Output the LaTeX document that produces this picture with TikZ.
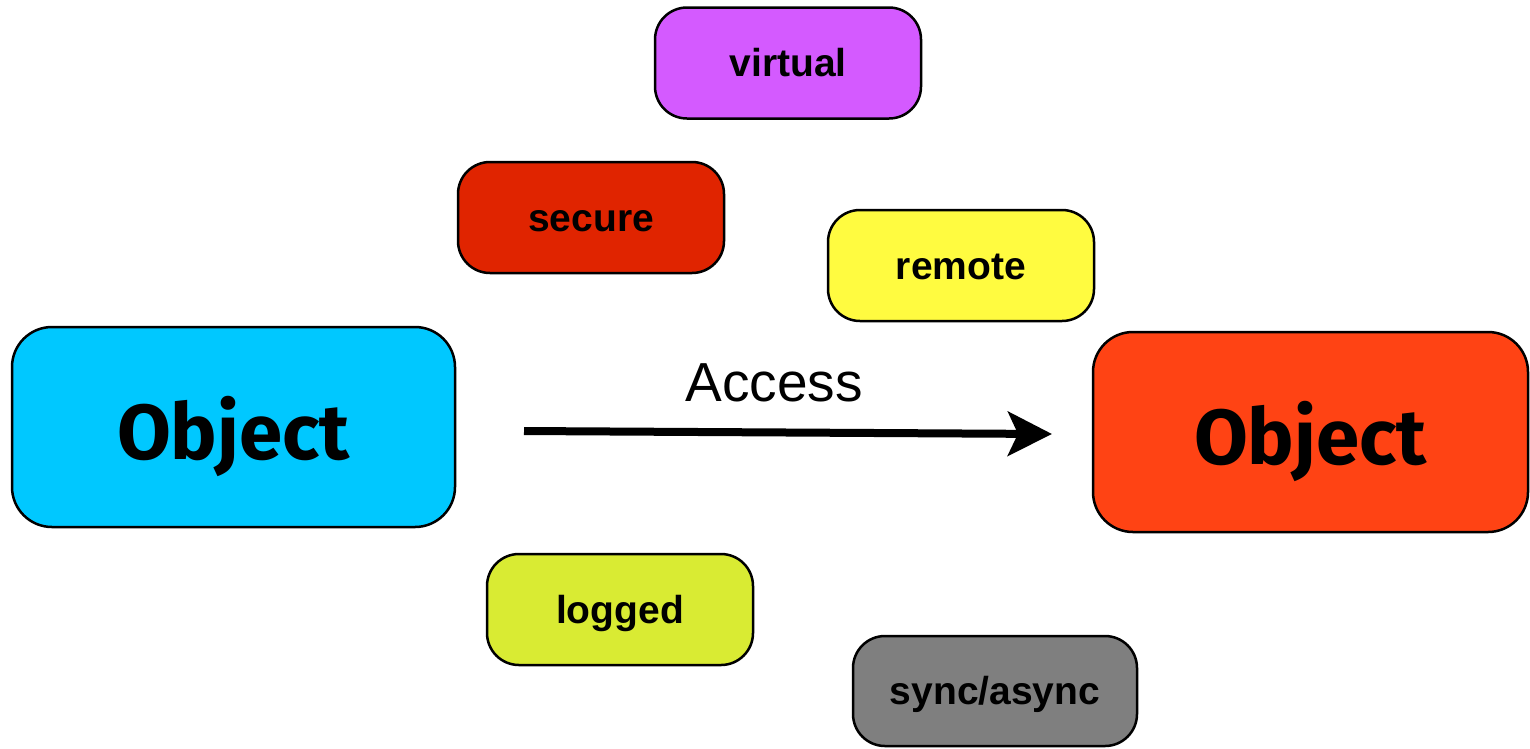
\documentclass[tikz,border=0pt]{standalone}
\usepackage{fontspec}
\setmainfont{Liberation Sans}
\newfontfamily\objfont{Fira Sans}
\usetikzlibrary{arrows.meta}

\definecolor{objcyan}{HTML}{00C8FF}
\definecolor{objorange}{HTML}{FF4314}
\definecolor{tagviolet}{HTML}{D45AFF}
\definecolor{tagred}{HTML}{E02400}
\definecolor{tagyellow}{HTML}{FFFB40}
\definecolor{taglime}{HTML}{D9EB33}
\definecolor{taggray}{HTML}{7F7F7F}

\tikzset{
  objbox/.style={draw=black, line width=2.5pt, rounded corners=40pt,
    minimum height=200pt, inner sep=0pt,
    font=\objfont\bfseries\fontsize{78}{82}\selectfont,
    text height=68pt, text depth=4pt},
  tagbox/.style={draw=black, line width=2.5pt, rounded corners=32pt,
    minimum width=266pt, minimum height=111pt, inner sep=0pt,
    font=\bfseries\fontsize{39}{42}\selectfont,
    text height=31pt, text depth=4pt},
  accessarrow/.style={line width=8pt,
    -{Stealth[length=44pt, width=44pt, inset=10pt]}}
}

\begin{document}
\begin{tikzpicture}[x=1pt, y=-1pt]
  \useasboundingbox (0,0) rectangle (1530,748);

  % the two objects
  \node[objbox, fill=objcyan, minimum width=443pt] (src) at (233.5,427) {Object};
  \node[objbox, fill=objorange, minimum width=435pt] (dst) at (1310.5,432) {Object};

  % qualities of the access
  \node[tagbox, fill=tagviolet] (virtual) at (788,63) {virtual};
  \node[tagbox, fill=tagred] (secure) at (591,217.5) {secure};
  \node[tagbox, fill=tagyellow] (remote) at (961,265.5) {remote};
  \node[tagbox, fill=taglime] (logged) at (620,609.5) {logged};
  \node[tagbox, fill=taggray, minimum width=284pt, minimum height=110pt] (sync) at (995,691) {sync/async};

  % the access arrow
  \coordinate (astart) at (524,431);
  \coordinate (aend) at (1052,434);
  \draw[accessarrow] (astart) -- (aend);
  \node[font=\fontsize{55}{60}\selectfont, anchor=base] (access) at (774,401) {Access};
\end{tikzpicture}
\end{document}
